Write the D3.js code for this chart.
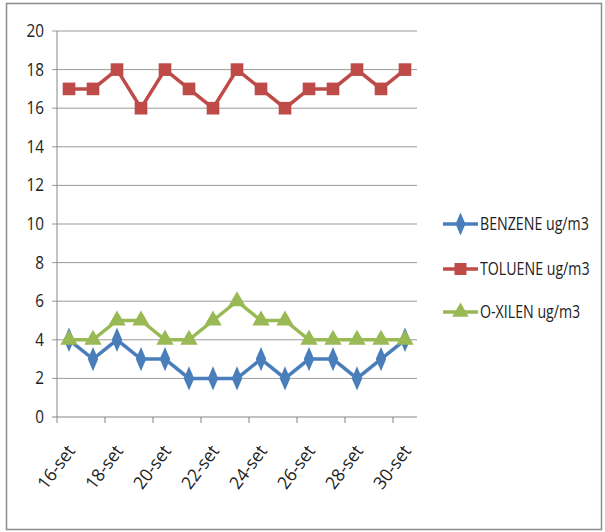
<!DOCTYPE html>
<html><head><meta charset="utf-8">
<script src="https://cdn.jsdelivr.net/npm/d3@7"></script>
<style>body{margin:0;background:#fff}svg text{font-family:"Open Sans",sans-serif;fill:#222}</style>
</head><body><svg id="c" width="605" height="532"></svg>
<script>
const days = ["16-set","17-set","18-set","19-set","20-set","21-set","22-set","23-set","24-set","25-set","26-set","27-set","28-set","29-set","30-set"];
const benzene = [4,3,4,3,3,2,2,2,3,2,3,3,2,3,4];
const toluene = [17,17,18,16,18,17,16,18,17,16,17,17,18,17,18];
const oxilen  = [4,4,5,5,4,4,5,6,5,5,4,4,4,4,4];
const yTicks = [0,2,4,6,8,10,12,14,16,18,20];
const seriesNames = ["BENZENE ug/m3","TOLUENE ug/m3","O-XILEN ug/m3"];
const colors = ["#4A7EBB","#BE4B48","#98B954"];
const shapes = [d3.symbolDiamond, d3.symbolSquare, d3.symbolTriangle];
const series = [benzene, toluene, oxilen];

const svg = d3.select("#c");
svg.append("rect").attr("x",6.5).attr("y",3.5).attr("width",595).attr("height",526)
  .attr("fill","#fff").attr("stroke","#8c8c8c").attr("stroke-width",1.5);

const L=57,R=417,T=31,B=417;
const x = d3.scaleBand().domain(days).range([L,R]);
const y = d3.scaleLinear().domain([0,20]).range([B,T]);

svg.append("g").selectAll("line").data(yTicks).join("line")
  .attr("x1",L-5).attr("x2",R).attr("y1",d=>y(d)).attr("y2",d=>y(d))
  .attr("stroke",d=>d===0?"#868686":"#9a9a9a").attr("stroke-width",1);
svg.append("line").attr("x1",L).attr("x2",L).attr("y1",T).attr("y2",B).attr("stroke","#868686");
svg.append("g").selectAll("text").data(yTicks).join("text")
  .attr("transform",d=>`translate(44,${y(d)+6}) scale(0.9,1.1)`).attr("text-anchor","end").attr("font-size",17).text(d=>d);

const tickIdx = days.map((d,i)=>i).filter(i=>i%2===0);
svg.append("g").selectAll("line").data(tickIdx).join("line")
  .attr("x1",i=>x(days[i])).attr("x2",i=>x(days[i])).attr("y1",B).attr("y2",B+6)
  .attr("stroke","#868686");
svg.append("g").selectAll("text").data(tickIdx).join("text")
  .attr("transform",i=>`translate(${x(days[i])+x.bandwidth()/2+7},${B+34}) rotate(-53) scale(1.02,1.05)`)
  .attr("text-anchor","end").attr("font-size",17).text(i=>days[i]);

const line = d3.line().x((d,i)=>x(days[i])+x.bandwidth()/2).y(d=>y(d));
const sizes=[130,160,130];
series.forEach((s,k)=>{
  svg.append("path").attr("d",line(s)).attr("fill","none").attr("stroke",colors[k]).attr("stroke-width",3.5);
  svg.append("g").selectAll("path").data(s).join("path")
    .attr("transform",(d,i)=>`translate(${x(days[i])+x.bandwidth()/2},${y(d)})${k===0?" scale(0.85,1.15)":""}`)
    .attr("d",d3.symbol().type(shapes[k]).size(sizes[k])).attr("fill",colors[k]);
});

const ly=[224,269,312];
seriesNames.forEach((n,k)=>{
  const g=svg.append("g").attr("transform",`translate(0,${ly[k]})`);
  g.append("line").attr("x1",443).attr("x2",478).attr("stroke",colors[k]).attr("stroke-width",3.5);
  g.append("path").attr("transform",`translate(460.5,0)${k===0?" scale(0.85,1.15)":""}`).attr("d",d3.symbol().type(shapes[k]).size(sizes[k]*0.9)).attr("fill",colors[k]);
  g.append("text").attr("transform","translate(480,6) scale(0.86,1.08)").attr("font-size",16.5).text(n);
});
</script></body></html>
